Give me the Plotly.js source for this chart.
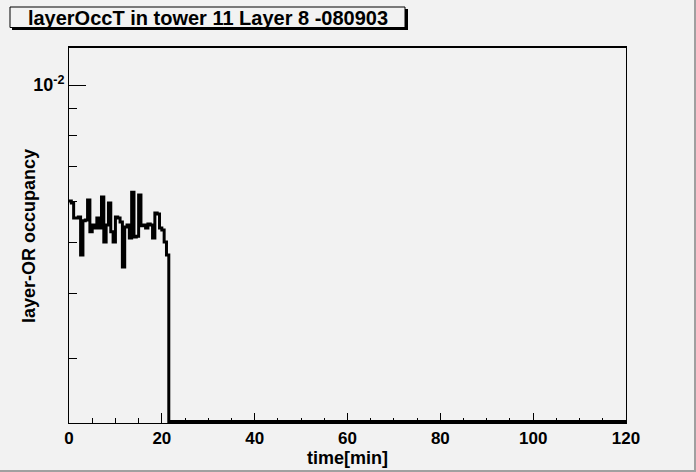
<!DOCTYPE html>
<html>
<head>
<meta charset="utf-8">
<script src="https://cdn.plot.ly/plotly-3.0.1.min.js"></script>
<style>
  html, body { margin: 0; padding: 0; background: #f2f2f2; }
  #chart { width: 696px; height: 472px; }
</style>
</head>
<body>
<div id="chart"></div>
<script>
// layer-OR occupancy per 0.5 min bin (first 43 bins, the rest are empty)
const BIN_WIDTH = 0.5;
const occupancy = [
  0.00600, 0.00595, 0.00557, 0.00557, 0.00559, 0.00473, 0.00550, 0.00552, 0.00603, 0.00524,
  0.00540, 0.00533, 0.00557, 0.00533, 0.00611, 0.00501, 0.00540, 0.00595, 0.00524, 0.00501,
  0.00559, 0.00557, 0.00547, 0.00449, 0.00535, 0.00540, 0.00510, 0.00624, 0.00512, 0.00514,
  0.00616, 0.00538, 0.00540, 0.00533, 0.00542, 0.00540, 0.00510, 0.00569, 0.00567, 0.00533,
  0.00528, 0.00501, 0.00473,
];
const TIME_MAX = 120;
const xTicks = [0, 20, 40, 60, 80, 100, 120];
const yMajorTicks = [0.01];
const yMajorLabels = ["10<sup>-2</sup>"];
const yMinorTicks = [0.003, 0.004, 0.005, 0.006, 0.007, 0.008, 0.009];

// empty bins sit on the bottom of a log axis, the way ROOT draws them
const Y_RANGE = [-2.6463, -1.9273];
const EMPTY_LEVEL = 0.002273;

const W = 696, H = 472;
const M = { l: 69, r: 70, t: 47, b: 49 };
const PW = W - M.l - M.r, PH = H - M.t - M.b;
const px = (v) => (v - M.l) / PW;
const py = (v) => 1 - (v - M.t) / PH;

const FONT = "Liberation Sans, Arial, Helvetica, sans-serif";
const BG = "#f2f2f2";

const xs = occupancy.map((_, i) => i * BIN_WIDTH).concat(occupancy.length * BIN_WIDTH, TIME_MAX);
const ys = occupancy.concat(EMPTY_LEVEL, EMPTY_LEVEL);

Plotly.newPlot(
  "chart",
  [
    {
      type: "scatter",
      mode: "lines",
      x: xs,
      y: ys,
      line: { shape: "hv", color: "black", width: 3 },
      hoverinfo: "skip",
    },
  ],
  {
    width: W,
    height: H,
    margin: M,
    paper_bgcolor: BG,
    plot_bgcolor: BG,
    showlegend: false,
    font: { family: FONT, color: "black" },
    title: {
      text: "layerOccT in tower 11 Layer 8 -080903",
      font: { family: FONT, size: 20, weight: "bold", color: "black" },
      xref: "container",
      yref: "container",
      x: 208 / W,
      xanchor: "center",
      y: 1 - 18 / H,
      yanchor: "middle",
    },
    xaxis: {
      range: [0, TIME_MAX],
      tickmode: "array",
      tickvals: xTicks,
      ticks: "inside",
      ticklen: 10,
      tickwidth: 1,
      tickcolor: "black",
      minor: { dtick: 5, tick0: 0, ticks: "inside", ticklen: 5, tickcolor: "black", showgrid: false },
      showline: true,
      mirror: true,
      linecolor: "black",
      linewidth: 1,
      showgrid: false,
      zeroline: false,
      tickfont: { family: FONT, size: 17, weight: "bold", color: "black" },
      title: { text: "time[min]", font: { family: FONT, size: 18, weight: "bold" }, standoff: 1 },
    },
    yaxis: {
      type: "log",
      range: Y_RANGE,
      tickmode: "array",
      tickvals: yMajorTicks,
      ticktext: yMajorLabels,
      ticks: "inside",
      ticklen: 17,
      tickwidth: 1,
      tickcolor: "black",
      minor: { tickmode: "array", tickvals: yMinorTicks, ticks: "inside", ticklen: 8, tickcolor: "black", showgrid: false },
      showline: true,
      mirror: true,
      linecolor: "black",
      linewidth: 1,
      showgrid: false,
      zeroline: false,
      tickfont: { family: FONT, size: 18, weight: "bold", color: "black" },
    },
    annotations: [
      // y axis title, placed where ROOT puts it (it overlaps the tick label column)
      {
        text: "layer-OR occupancy",
        xref: "paper", yref: "paper",
        x: px(29), y: py(236),
        xanchor: "center", yanchor: "middle",
        textangle: -90,
        showarrow: false,
        font: { family: FONT, size: 18, weight: "bold", color: "black" },
      },
    ],
    shapes: [
      // title box with its shadow
      { type: "rect", xref: "paper", yref: "paper", x0: px(12), x1: px(408), y0: py(9), y1: py(30),
        fillcolor: "black", line: { width: 0 }, layer: "above" },
      { type: "rect", xref: "paper", yref: "paper", x0: px(10), x1: px(405), y0: py(7), y1: py(27.5),
        fillcolor: BG, line: { color: "black", width: 1 }, layer: "above" },
      // thicker top frame edge
      { type: "line", xref: "paper", yref: "paper", x0: 0, x1: 1, y0: 1, y1: 1,
        line: { color: "black", width: 2 } },
      // canvas bevel on the right and bottom
      { type: "line", xref: "paper", yref: "paper", x0: px(695), x1: px(695), y0: py(0), y1: py(472),
        line: { color: "#a0a0a0", width: 2 } },
      { type: "line", xref: "paper", yref: "paper", x0: px(0), x1: px(696), y0: py(471), y1: py(471),
        line: { color: "#a0a0a0", width: 2 } },
    ],
  },
  { displayModeBar: false, staticPlot: true }
);
</script>
</body>
</html>
